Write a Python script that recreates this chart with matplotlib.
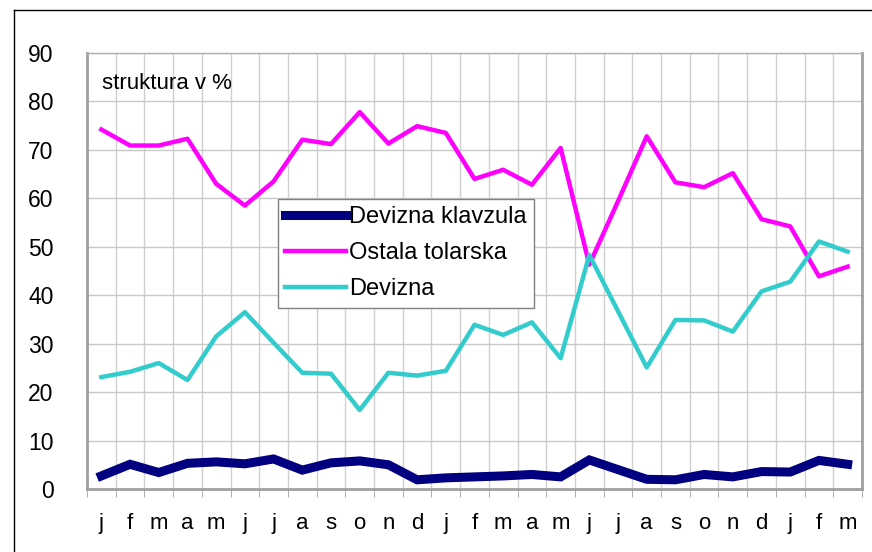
import numpy as np
import matplotlib
matplotlib.use("Agg")
import matplotlib.pyplot as plt
from matplotlib.lines import Line2D

plt.rcParams['font.family'] = ['Liberation Sans', 'DejaVu Sans']

# monthly labels, two full years plus three months
months = ['j', 'f', 'm', 'a', 'm', 'j', 'j', 'a', 's', 'o', 'n', 'd',
          'j', 'f', 'm', 'a', 'm', 'j', 'j', 'a', 's', 'o', 'n', 'd',
          'j', 'f', 'm']

devizna_klavzula = [2.7, 5.1, 3.4, 5.3, 5.6, 5.2, 6.2, 3.9, 5.4, 5.8, 5.0, 1.9,
                    2.3, 2.5, 2.7, 3.0, 2.5, 6.0, 4.0, 2.0, 1.9, 3.0, 2.5, 3.6,
                    3.5, 5.9, 5.1]
ostala_tolarska = [74.2, 70.9, 70.9, 72.3, 63.0, 58.5, 63.5, 72.1, 71.2, 77.8, 71.3, 74.9,
                   73.5, 64.0, 65.9, 62.8, 70.4, 46.3, 59.4, 72.8, 63.3, 62.3, 65.2, 55.7,
                   54.2, 43.9, 45.9]
devizna = [23.1, 24.2, 26.0, 22.5, 31.5, 36.5, 30.2, 24.0, 23.8, 16.3, 24.0, 23.4,
           24.4, 33.9, 31.8, 34.4, 27.0, 48.3, 36.7, 25.1, 34.9, 34.8, 32.5, 40.8,
           42.8, 51.1, 49.0]

W, H = 872, 552
fig = plt.figure(figsize=(W / 100, H / 100), dpi=100)

# outer frame (left and top edges visible)
fig.add_artist(Line2D([14 / W, 14 / W], [0, 1 - 10 / H], transform=fig.transFigure,
                      color='black', lw=1))
fig.add_artist(Line2D([14 / W, 1], [1 - 10 / H, 1 - 10 / H], transform=fig.transFigure,
                      color='black', lw=1))

left, right, top, bottom = 87, 862, 53, 489
ax = fig.add_axes([left / W, 1 - bottom / H, (right - left) / W, (bottom - top) / H])

x = np.arange(len(months))
ax.plot(x, devizna_klavzula, color='#000080', lw=6.5, label='Devizna klavzula',
        solid_joinstyle='miter', zorder=3)
ax.plot(x, ostala_tolarska, color='#FF00FF', lw=3.2, label='Ostala tolarska', zorder=3)
ax.plot(x, devizna, color='#33CCCC', lw=3.2, label='Devizna', zorder=3)

ax.set_xlim(-0.5, len(months) - 0.5)
ax.set_ylim(0, 90)
ax.set_yticks(np.arange(0, 91, 10))
ax.set_xticks(x)
ax.set_xticklabels(months)
ax.set_xticks(np.arange(-0.5, len(months)), minor=True)

ax.grid(axis='y', which='major', color='#c8c8c8', lw=1)
ax.grid(axis='x', which='minor', color='#d0d0d0', lw=1)
ax.set_axisbelow(True)

ax.tick_params(axis='x', which='major', length=0, labelsize=16, pad=17)
ax.tick_params(axis='x', which='minor', length=6, color='#a0a0a0', direction='out')
ax.tick_params(axis='y', length=0, labelsize=16.5, pad=24)

for side in ['left', 'bottom', 'right']:
    ax.spines[side].set_color('#a0a0a0')
    ax.spines[side].set_linewidth(2)
ax.spines['top'].set_color('#b0b0b0')
ax.spines['top'].set_linewidth(1)

ax.text(0.019, 0.93, 'struktura v %', transform=ax.transAxes, fontsize=16,
        ha='left', va='center')

leg = ax.legend(loc='upper left', bbox_to_anchor=((278 - left) / (right - left),
                                                  1 - (199 - top) / (bottom - top)),
                fontsize=17, frameon=True, fancybox=False, borderpad=0.3,
                handlelength=2.6, handletextpad=0.1, labelspacing=0.6,
                borderaxespad=0)
leg.get_frame().set_edgecolor('#808080')
leg.get_frame().set_linewidth(1)
leg.get_frame().set_alpha(1)

fig.savefig('out.png', dpi=100)
